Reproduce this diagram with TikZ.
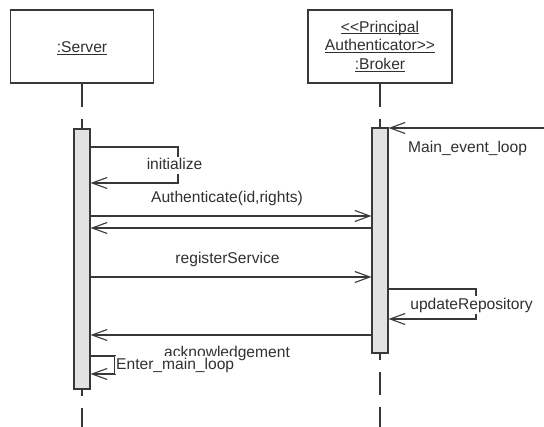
\documentclass[tikz,border=0pt]{standalone}
\usepackage{fontspec}
\setmainfont{Liberation Sans}
\usetikzlibrary{arrows.meta}
\definecolor{ln}{HTML}{383838}
\definecolor{tx}{HTML}{303030}
\definecolor{actfill}{HTML}{E2E2E2}
\newcommand\myul[1]{\setbox0\hbox{#1}\rlap{\rule[-1.8pt]{\wd0}{0.8pt}}\box0}
\tikzset{
  objbox/.style={draw=ln, line width=1.4pt, minimum width=143pt, minimum height=73pt, inner sep=0pt},
  actbar/.style={draw=ln, line width=1.1pt, fill=actfill, minimum width=16pt, inner sep=0pt},
  msg/.style={draw=ln, line width=1.1pt, -{Straight Barb[length=15pt,width=11pt,line width=1.1pt]}},
  life/.style={draw=ln, line width=1.1pt, dash pattern=on 23pt off 12pt},
  lbl/.style={text=tx, font=\fontsize{15.6}{19}\selectfont, inner sep=0pt, anchor=base},
  wlbl/.style={lbl, fill=white, text height=12pt, text depth=3.5pt, inner xsep=1pt, inner ysep=1pt},
}
\begin{document}
\begin{tikzpicture}[x=1pt,y=-1pt]
\useasboundingbox (0,0) rectangle (544,427);
% object boxes
\node[objbox] (srv) at (82,46.5) {};
\node[objbox, minimum width=144pt] (brk) at (380,46.5) {};
\node[lbl] (srvt) at (82,52.7) {\myul{:Server}};
\node[lbl] (brk1) at (380,32.3) {\myul{<\kern0pt<Principal}};
\node[lbl] (brk2) at (380,51) {\myul{Authenticator>\kern0pt>}};
\node[lbl] (brk3) at (380,70) {\myul{:Broker}};
% activation bars
\node[actbar, minimum height=260pt] (actS) at (82,259) {};
\node[actbar, minimum height=225pt] (actB) at (380,240.5) {};
\coordinate (endS) at (82,427);
\coordinate (endB) at (380,427);
\coordinate (me) at (544,128);
% lifelines
\draw[life] (srv.south) -- (actS.north);
\draw[life] (brk.south) -- (actB.north);
\draw[life, dash phase=17pt] (actS.south) -- (endS);
\draw[life, dash phase=17pt] (actB.south) -- (endB);
% redraw bars on top of lifelines
\node[actbar, minimum height=260pt] at (82,259) {};
\node[actbar, minimum height=225pt] at (380,240.5) {};
% messages
\draw[msg] (me) -- (me -| actB.east);
\draw[msg] (actS.east |- 0,147) -- (178,147) -- (178,183) -- (actS.east |- 0,183);
\draw[msg] (actS.east |- 0,216) -- (actB.west |- 0,216);
\draw[msg] (actB.west |- 0,228) -- (actS.east |- 0,228);
\draw[msg] (actS.east |- 0,277) -- (actB.west |- 0,277);
\draw[msg] (actB.east |- 0,289) -- (476,289) -- (476,319) -- (actB.east |- 0,319);
\draw[msg] (actB.west |- 0,335) -- (actS.east |- 0,335);
\draw[msg] (actS.east |- 0,356) -- (115,356) -- (115,374) -- (actS.east |- 0,374);
% labels
\node[lbl, anchor=base west] (lme) at (408,153) {Main\_event\_loop};
\node[wlbl] (lini) at (174.5,170) {initialize};
\node[lbl] (lauth) at (227,202.7) {Authenticate(id,rights)};
\node[lbl] (lreg) at (227.5,263.3) {registerService};
\node[wlbl] (lupd) at (471.5,309.3) {updateRepository};
\node[lbl] (lack) at (227,357.5) {acknowledgement};
\node[wlbl, anchor=base west] (lent) at (115,369.3) {Enter\_main\_loop};
\end{tikzpicture}
\end{document}
